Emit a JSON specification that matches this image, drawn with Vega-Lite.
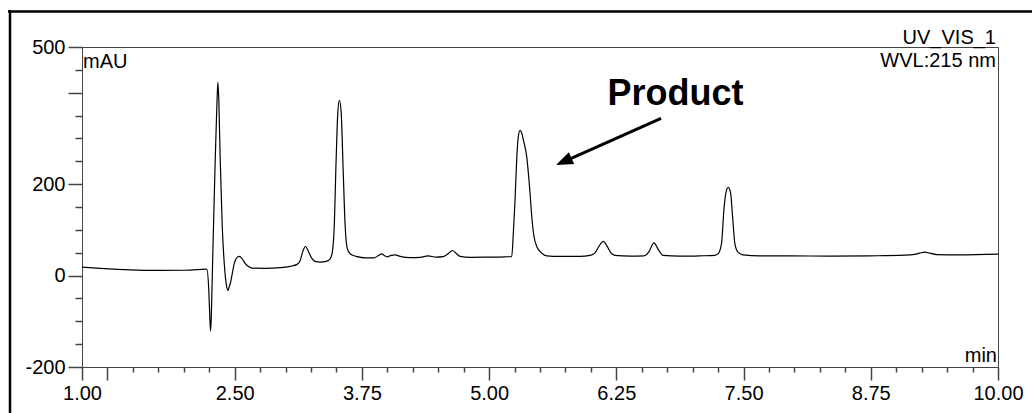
{
  "$schema": "https://vega.github.io/schema/vega-lite/v6.json",
  "width": 916,
  "height": 320,
  "autosize": {"type": "none"},
  "padding": {"left": 82, "top": 47, "right": 34, "bottom": 46},
  "background": "white",
  "config": {
    "font": "Liberation Sans",
    "view": {"stroke": "#444", "strokeWidth": 1}
  },
  "datasets": {
    "trace": [
      {"t": 1.000, "v": 18.4}, {"t": 1.180, "v": 15.8}, {"t": 1.474, "v": 12.5}, {"t": 1.769, "v": 11.4},
      {"t": 2.063, "v": 11.8}, {"t": 2.211, "v": 14.0}, {"t": 2.227, "v": 13.6}, {"t": 2.247, "v": -38.6},
      {"t": 2.255, "v": -86.1}, {"t": 2.263, "v": -121.2}, {"t": 2.270, "v": -92.7}, {"t": 2.276, "v": -38.6},
      {"t": 2.292, "v": 107.4}, {"t": 2.309, "v": 253.6}, {"t": 2.326, "v": 377.8}, {"t": 2.335, "v": 423.0},
      {"t": 2.345, "v": 377.8}, {"t": 2.358, "v": 253.6}, {"t": 2.378, "v": 107.4}, {"t": 2.400, "v": 19.7},
      {"t": 2.417, "v": -18.2}, {"t": 2.434, "v": -32.4}, {"t": 2.446, "v": -24.8}, {"t": 2.459, "v": -15.3},
      {"t": 2.476, "v": 3.7}, {"t": 2.495, "v": 25.6}, {"t": 2.520, "v": 38.8}, {"t": 2.547, "v": 42.1},
      {"t": 2.574, "v": 36.6}, {"t": 2.603, "v": 26.7}, {"t": 2.633, "v": 20.2}, {"t": 2.672, "v": 16.2},
      {"t": 2.800, "v": 15.8}, {"t": 2.947, "v": 17.3}, {"t": 3.045, "v": 20.2}, {"t": 3.114, "v": 24.5},
      {"t": 3.143, "v": 32.2}, {"t": 3.168, "v": 51.9}, {"t": 3.196, "v": 63.6}, {"t": 3.222, "v": 54.1},
      {"t": 3.252, "v": 39.9}, {"t": 3.291, "v": 31.1}, {"t": 3.340, "v": 29.4}, {"t": 3.399, "v": 31.1},
      {"t": 3.438, "v": 36.6}, {"t": 3.458, "v": 49.7}, {"t": 3.477, "v": 100.2}, {"t": 3.497, "v": 253.6},
      {"t": 3.514, "v": 358.7}, {"t": 3.529, "v": 383.5}, {"t": 3.546, "v": 358.7}, {"t": 3.566, "v": 231.6},
      {"t": 3.585, "v": 111.1}, {"t": 3.605, "v": 60.7}, {"t": 3.634, "v": 47.6}, {"t": 3.693, "v": 42.1},
      {"t": 3.792, "v": 38.8}, {"t": 3.870, "v": 38.8}, {"t": 3.909, "v": 43.2}, {"t": 3.946, "v": 47.6},
      {"t": 3.973, "v": 43.2}, {"t": 4.001, "v": 41.0}, {"t": 4.037, "v": 44.3}, {"t": 4.076, "v": 45.4},
      {"t": 4.125, "v": 42.1}, {"t": 4.224, "v": 39.4}, {"t": 4.322, "v": 39.9}, {"t": 4.400, "v": 43.2},
      {"t": 4.479, "v": 40.3}, {"t": 4.557, "v": 42.1}, {"t": 4.597, "v": 47.6}, {"t": 4.639, "v": 54.8},
      {"t": 4.675, "v": 48.7}, {"t": 4.715, "v": 42.1}, {"t": 4.813, "v": 39.9}, {"t": 5.009, "v": 40.3},
      {"t": 5.156, "v": 41.0}, {"t": 5.222, "v": 41.6}, {"t": 5.238, "v": 92.9}, {"t": 5.255, "v": 165.9},
      {"t": 5.271, "v": 253.6}, {"t": 5.287, "v": 304.6}, {"t": 5.304, "v": 317.8}, {"t": 5.320, "v": 312.1},
      {"t": 5.336, "v": 297.4}, {"t": 5.369, "v": 260.8}, {"t": 5.402, "v": 180.6}, {"t": 5.419, "v": 129.3},
      {"t": 5.441, "v": 85.5}, {"t": 5.468, "v": 63.6}, {"t": 5.517, "v": 49.1}, {"t": 5.566, "v": 43.2},
      {"t": 5.696, "v": 42.1}, {"t": 5.893, "v": 42.1}, {"t": 5.991, "v": 44.3}, {"t": 6.040, "v": 49.7},
      {"t": 6.079, "v": 64.0}, {"t": 6.122, "v": 75.0}, {"t": 6.163, "v": 62.9}, {"t": 6.197, "v": 49.7},
      {"t": 6.236, "v": 44.3}, {"t": 6.384, "v": 42.5}, {"t": 6.521, "v": 43.2}, {"t": 6.570, "v": 51.9},
      {"t": 6.619, "v": 71.7}, {"t": 6.664, "v": 56.3}, {"t": 6.708, "v": 44.3}, {"t": 6.875, "v": 42.5},
      {"t": 7.071, "v": 43.2}, {"t": 7.218, "v": 44.3}, {"t": 7.253, "v": 48.7}, {"t": 7.284, "v": 71.0},
      {"t": 7.307, "v": 144.0}, {"t": 7.326, "v": 180.6}, {"t": 7.349, "v": 192.9}, {"t": 7.373, "v": 180.6},
      {"t": 7.392, "v": 129.3}, {"t": 7.415, "v": 69.5}, {"t": 7.447, "v": 50.8}, {"t": 7.496, "v": 45.4},
      {"t": 7.660, "v": 43.2}, {"t": 7.955, "v": 43.2}, {"t": 8.348, "v": 42.5}, {"t": 8.740, "v": 43.2},
      {"t": 9.084, "v": 44.7}, {"t": 9.182, "v": 46.5}, {"t": 9.231, "v": 49.1}, {"t": 9.280, "v": 51.3},
      {"t": 9.329, "v": 49.1}, {"t": 9.395, "v": 46.0}, {"t": 9.624, "v": 45.4}, {"t": 10.000, "v": 46.9}
    ],
    "frame": [
      {"t": 0.2926, "t2": 0.2926, "v": 581, "v2": -320},
      {"t": 0.273, "t2": 10.5, "v": 577.7, "v2": 577.7}
    ],
    "rightLabels": [
      {"t": 9.98, "v": 506.6, "text": "UV_VIS_1"},
      {"t": 9.98, "v": 456.2, "text": "WVL:215 nm"},
      {"t": 9.99, "v": -189.1, "text": "min"}
    ],
    "leftLabels": [
      {"t": 1.01, "v": 454.0, "text": "mAU"}
    ],
    "product": [
      {"t": 6.831, "v": 373.1, "text": "Product"}
    ],
    "arrow": [
      {"t": 6.689, "v": 344.0, "t2": 5.746, "v2": 250.6}
    ],
    "head": [
      {"t": 5.657, "v": 241.9}
    ]
  },
  "encoding": {
    "x": {
      "field": "t", "type": "quantitative",
      "scale": {"domain": [1, 10], "nice": false, "zero": false},
      "axis": {
        "orient": "bottom",
        "title": null,
        "grid": false,
        "values": [1, 1.25, 1.5, 1.75, 2, 2.25, 2.5, 2.75, 3, 3.25, 3.5, 3.75, 4, 4.25, 4.5, 4.75, 5, 5.25, 5.5, 5.75, 6, 6.25, 6.5, 6.75, 7, 7.25, 7.5, 7.75, 8, 8.25, 8.5, 8.75, 9, 9.25, 9.5, 9.75, 10],
        "format": ".2f",
        "labelExpr": "indexof([1, 2.5, 3.75, 5, 6.25, 7.5, 8.75, 10], datum.value) >= 0 ? datum.label : ''",
        "tickSize": {"condition": {"test": "indexof([1, 1.25, 2.5, 3.75, 5, 6.25, 7.5, 8.75, 10], datum.value) >= 0", "value": 13}, "value": 5},
        "labelPadding": 3,
        "labelFontSize": 20,
        "labelFont": "Liberation Sans",
        "labelColor": "black",
        "labelFlush": false,
        "labelOverlap": false,
        "labelBound": false,
        "domainColor": "#444",
        "tickColor": "#444",
        "tickWidth": 1.5
      }
    },
    "y": {
      "field": "v", "type": "quantitative",
      "scale": {"domain": [-200, 500], "nice": false, "zero": false},
      "axis": {
        "orient": "left",
        "title": null,
        "grid": false,
        "values": [-200, -150, -100, -50, 0, 50, 100, 150, 200, 250, 300, 350, 400, 450, 500],
        "labelExpr": "indexof([-200, 0, 200, 500], datum.value) >= 0 ? ('' + datum.value) : ''",
        "tickSize": {"condition": {"test": "indexof([-200, 0, 200, 400, 500], datum.value) >= 0", "value": 14}, "value": 7},
        "labelPadding": 3,
        "labelFontSize": 20,
        "labelFont": "Liberation Sans",
        "labelColor": "black",
        "labelFlush": false,
        "labelOverlap": false,
        "labelBound": false,
        "domainColor": "#444",
        "tickColor": "#444",
        "tickWidth": 1.5
      }
    }
  },
  "layer": [
    {
      "data": {"name": "trace"},
      "mark": {"type": "line", "color": "black", "strokeWidth": 1.2, "interpolate": "monotone"}
    },
    {
      "data": {"name": "frame"},
      "mark": {"type": "rule", "color": "black", "strokeWidth": 2.5},
      "encoding": {
        "x2": {"field": "t2"},
        "y2": {"field": "v2"}
      }
    },
    {
      "data": {"name": "rightLabels"},
      "mark": {"type": "text", "baseline": "alphabetic", "align": "right", "color": "black", "font": "Liberation Sans", "fontSize": 20},
      "encoding": {
        "text": {"field": "text"}
      }
    },
    {
      "data": {"name": "leftLabels"},
      "mark": {"type": "text", "baseline": "alphabetic", "align": "left", "color": "black", "font": "Liberation Sans", "fontSize": 20},
      "encoding": {
        "text": {"field": "text"}
      }
    },
    {
      "data": {"name": "product"},
      "mark": {"type": "text", "baseline": "alphabetic", "align": "center", "color": "black", "font": "Liberation Sans", "fontWeight": "bold", "fontSize": 36},
      "encoding": {
        "text": {"field": "text"}
      }
    },
    {
      "data": {"name": "arrow"},
      "mark": {"type": "rule", "color": "black", "strokeWidth": 3},
      "encoding": {
        "x2": {"field": "t2"},
        "y2": {"field": "v2"}
      }
    },
    {
      "data": {"name": "head"},
      "mark": {"type": "point", "filled": true, "color": "black", "opacity": 1, "shape": "M0,0L-0.38,1L0.38,1Z", "size": 1156, "angle": 246, "strokeWidth": 0}
    }
  ]
}
